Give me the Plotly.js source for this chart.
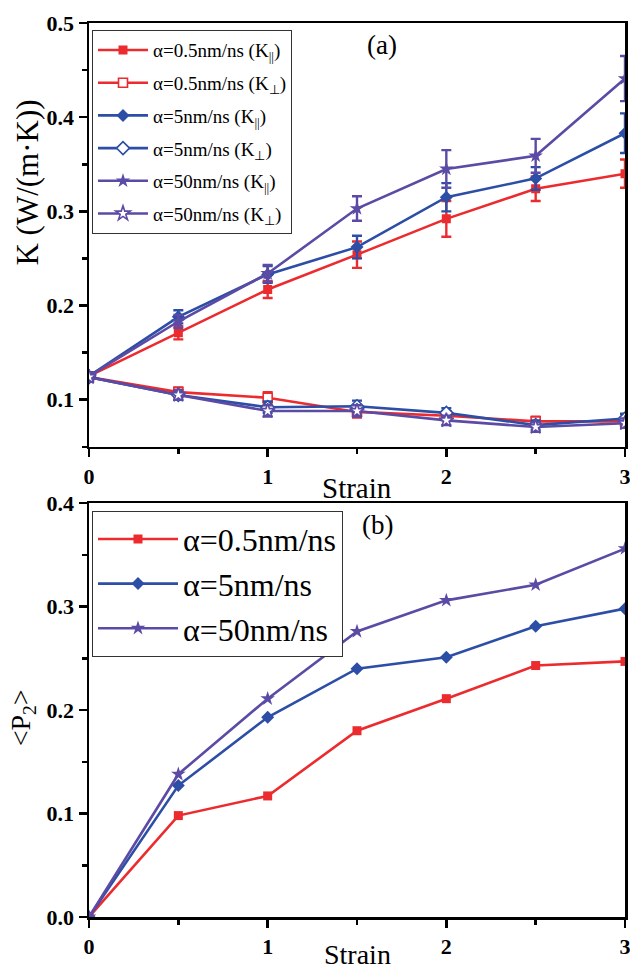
<!DOCTYPE html>
<html>
<head>
<meta charset="utf-8">
<script src="https://cdn.plot.ly/plotly-3.0.1.min.js"></script>
<style>
html,body{margin:0;padding:0;background:#fff;}
#chart{width:630px;height:969px;}
</style>
</head>
<body>
<div id="chart"></div>
<script>
// ---------- data ----------
const strain = [0, 0.5, 1, 1.5, 2, 2.5, 3];

// panel (a): thermal conductivity K (W/(m.K))
const kPar05     = [0.125, 0.171, 0.217, 0.254, 0.292, 0.324, 0.340];
const kPar05Err  = [0.004, 0.007, 0.009, 0.014, 0.019, 0.013, 0.015];
const kPerp05    = [0.124, 0.108, 0.102, 0.087, 0.083, 0.077, 0.077];
const kPerp05Err = [0.004, 0.005, 0.006, 0.006, 0.005, 0.005, 0.005];
const kPar5      = [0.125, 0.188, 0.233, 0.262, 0.315, 0.335, 0.383];
const kPar5Err   = [0.004, 0.007, 0.009, 0.012, 0.015, 0.012, 0.021];
const kPerp5     = [0.124, 0.105, 0.092, 0.093, 0.086, 0.073, 0.080];
const kPerp5Err  = [0.004, 0.005, 0.006, 0.006, 0.005, 0.005, 0.005];
const kPar50     = [0.125, 0.183, 0.234, 0.303, 0.345, 0.359, 0.441];
const kPar50Err  = [0.004, 0.007, 0.009, 0.013, 0.020, 0.018, 0.024];
const kPerp50    = [0.124, 0.105, 0.088, 0.088, 0.078, 0.071, 0.075];
const kPerp50Err = [0.004, 0.005, 0.006, 0.006, 0.005, 0.005, 0.005];

// panel (b): order parameter <P2>
const p2_05 = [0, 0.098, 0.117, 0.180, 0.211, 0.243, 0.247];
const p2_5  = [0, 0.127, 0.193, 0.240, 0.251, 0.281, 0.298];
const p2_50 = [0, 0.138, 0.211, 0.276, 0.306, 0.321, 0.356];

const namesA = [
  'α=0.5nm/ns (K<sub>||</sub>)', 'α=0.5nm/ns (K<sub>⊥</sub>)',
  'α=5nm/ns (K<sub>||</sub>)',   'α=5nm/ns (K<sub>⊥</sub>)',
  'α=50nm/ns (K<sub>||</sub>)',  'α=50nm/ns (K<sub>⊥</sub>)'
];
const namesB = ['α=0.5nm/ns', 'α=5nm/ns', 'α=50nm/ns'];

// ---------- style ----------
const RED = '#EC2B2E', BLUE = '#2D4EA6', PURPLE = '#5B4BA5';
const SERIF = 'Liberation Serif, Times New Roman, serif';

function kTrace(y, err, name, color, symbol, open, group) {
  return {
    x: strain, y: y, name: name, type: 'scatter', mode: 'lines+markers',
    xaxis: 'x', yaxis: 'y', legend: 'legend', legendgroup: group,
    line: {color: color, width: 2.6},
    marker: {symbol: symbol, size: symbol === 'star' ? 11 : (symbol === 'diamond' ? 10 : 9),
             color: open ? 'white' : color, line: {color: color, width: open ? 1.6 : 0}},
    error_y: {type: 'data', array: err, visible: true, color: color, thickness: 2.4, width: 5}
  };
}
function pTrace(y, name, color, symbol) {
  return {
    x: strain, y: y, name: name, type: 'scatter', mode: 'lines+markers',
    xaxis: 'x2', yaxis: 'y2', legend: 'legend2',
    line: {color: color, width: 2.6},
    marker: {symbol: symbol, size: symbol === 'star' ? 11 : (symbol === 'diamond' ? 10 : 9), color: color}
  };
}

const traces = [
  kTrace(kPar05,  kPar05Err,  namesA[0], RED,    'square',  false, 'a1'),
  kTrace(kPerp05, kPerp05Err, namesA[1], RED,    'square',  true,  'a2'),
  kTrace(kPar5,   kPar5Err,   namesA[2], BLUE,   'diamond', false, 'a3'),
  kTrace(kPerp5,  kPerp5Err,  namesA[3], BLUE,   'diamond', true,  'a4'),
  kTrace(kPar50,  kPar50Err,  namesA[4], PURPLE, 'star',    false, 'a5'),
  kTrace(kPerp50, kPerp50Err, namesA[5], PURPLE, 'star',    true,  'a6'),
  pTrace(p2_05, namesB[0], RED,    'square'),
  pTrace(p2_5,  namesB[1], BLUE,   'diamond'),
  pTrace(p2_50, namesB[2], PURPLE, 'star')
];

const tickFont = {family: SERIF, size: 22, color: 'black', weight: 'bold'};
function axis(extra) {
  return Object.assign({
    showline: true, linecolor: 'black', linewidth: 2.5, mirror: true,
    ticks: 'outside', ticklen: 8, tickwidth: 2.5, tickcolor: 'black',
    showgrid: false, zeroline: false, tickfont: tickFont, fixedrange: true,
    ticklabeloverflow: 'allow'
  }, extra);
}
const minorX = {dtick: 0.5, ticks: 'outside', ticklen: 5, tickwidth: 2.5, tickcolor: 'black', showgrid: false};
const minorY = {dtick: 0.05, ticks: 'outside', ticklen: 5, tickwidth: 2.5, tickcolor: 'black', showgrid: false};

const layout = {
  width: 630, height: 969,
  margin: {l: 89, r: 5, t: 23, b: 52},
  paper_bgcolor: 'white', plot_bgcolor: 'white',
  font: {family: SERIF, color: 'black'},
  showlegend: true,
  xaxis:  axis({domain: [0, 1], anchor: 'y',  range: [0, 3], tick0: 0, dtick: 1, minor: minorX}),
  yaxis:  axis({domain: [0.526, 1], anchor: 'x', range: [0.05, 0.5], tick0: 0, dtick: 0.1, tickformat: '.1f', minor: minorY}),
  xaxis2: axis({domain: [0, 1], anchor: 'y2', range: [0, 3], tick0: 0, dtick: 1, minor: minorX}),
  yaxis2: axis({domain: [0, 0.463], anchor: 'x2', range: [0, 0.4], tick0: 0, dtick: 0.1, tickformat: '.1f', minor: minorY}),
  legend: {
    x: 0.0056, y: 0.992, xanchor: 'left', yanchor: 'top',
    bgcolor: 'white', bordercolor: '#333', borderwidth: 1,
    font: {family: SERIF, size: 19, color: 'black'},
    itemwidth: 50, traceorder: 'grouped', tracegroupgap: 5
  },
  legend2: {
    x: 0.0056, y: 0.4545, xanchor: 'left', yanchor: 'top',
    bgcolor: 'white', bordercolor: '#333', borderwidth: 1,
    font: {family: SERIF, size: 32, color: 'black'},
    itemwidth: 80
  },
  annotations: [
    {xref: 'x domain', yref: 'y domain', x: 0.5, y: 0, yanchor: 'top', yshift: -23,
     text: 'Strain', showarrow: false, font: {family: SERIF, size: 29, color: 'black'}},
    {xref: 'x2 domain', yref: 'y2 domain', x: 0.5, y: 0, yanchor: 'top', yshift: -20,
     text: 'Strain', showarrow: false, font: {family: SERIF, size: 28, color: 'black'}},
    {xref: 'x domain', yref: 'y domain', x: 0, y: 0.6234, xanchor: 'center', yanchor: 'middle', xshift: -61,
     textangle: -90, text: 'K (W/(m·K))', showarrow: false, font: {family: SERIF, size: 31, color: 'black'}},
    {xref: 'x2 domain', yref: 'y2 domain', x: 0, y: 0.48, xanchor: 'center', yanchor: 'middle', xshift: -67,
     textangle: -90, text: '&lt;P<sub>2</sub>&gt;', showarrow: false, font: {family: SERIF, size: 28, color: 'black'}},
    {xref: 'paper', yref: 'y domain', x: (382 - 89) / 536, y: 1, yanchor: 'middle', yshift: -22,
     text: '(a)', showarrow: false, font: {family: SERIF, size: 27, color: 'black'}},
    {xref: 'paper', yref: 'y2 domain', x: (377 - 89) / 536, y: 1, yanchor: 'middle', yshift: -22,
     text: '(b)', showarrow: false, font: {family: SERIF, size: 27, color: 'black'}}
  ]
};

Plotly.newPlot('chart', traces, layout, {displayModeBar: false, staticPlot: true});
</script>
</body>
</html>
